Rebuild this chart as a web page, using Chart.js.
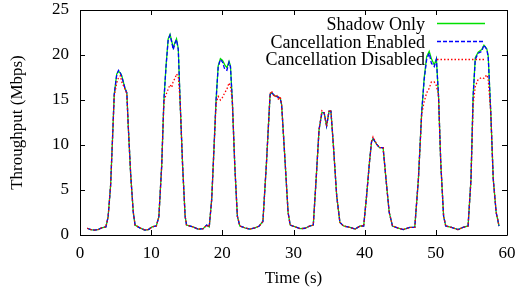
<!DOCTYPE html>
<html>
<head>
<meta charset="utf-8">
<script src="https://cdn.jsdelivr.net/npm/chart.js@4.4.0/dist/chart.umd.min.js"></script>
<style>
  html, body { margin: 0; padding: 0; background: #fff; }
  #wrap { width: 519px; height: 290px; }
</style>
</head>
<body>
<div id="wrap"><canvas id="plot"></canvas></div>
<script>
// data, time in seconds, throughput in Mbps
const times = [
  1.01, 1.52, 2.02, 2.53, 3.04, 3.64, 3.95,
  4.30, 4.55, 4.81, 5.16, 5.41, 5.67, 5.87, 6.32, 6.58, 6.78, 7.13, 7.49, 7.74,
  8.40, 9.11, 9.61, 10.12, 10.72, 11.08,
  11.48, 11.79, 12.09, 12.39, 12.65, 12.90, 13.10, 13.35, 13.56, 13.81, 14.06, 14.42, 14.77, 14.97,
  15.88, 16.59, 17.30, 17.81, 18.16,
  18.51, 18.82, 19.12, 19.42, 19.73, 20.03, 20.34, 20.64, 20.94, 21.14, 21.40, 21.75, 22.11, 22.46,
  23.17, 23.88, 24.58, 25.19, 25.70,
  26.20, 26.71, 26.91, 27.32, 27.62, 27.92, 28.13, 28.33, 28.83, 29.24, 29.54,
  30.25, 30.96, 31.62, 32.27, 32.78,
  33.18, 33.59, 33.99, 34.30, 34.65, 35.00, 35.26, 35.61, 36.07, 36.52,
  37.03, 37.94, 38.65, 39.36, 39.86,
  40.27, 40.67, 40.97, 41.18, 41.68, 42.09, 42.59, 43.00, 43.45, 43.91,
  44.72, 45.43, 46.34, 47.04,
  47.55, 48.01, 48.36, 48.71, 49.07, 49.37, 49.78, 50.08, 50.38, 50.69, 51.09, 51.39,
  52.20, 53.11, 53.82, 54.53,
  54.94, 55.24, 55.54, 55.95, 56.45, 56.76, 57.16, 57.36, 57.72, 58.07, 58.48, 58.88
];

const shadowOnly = [
  0.75, 0.6, 0.55, 0.6, 0.8, 0.9, 2.0,
  5.5, 10.3, 15.6, 17.9, 18.2, 18.0, 17.7, 16.3, 15.8, 12.1, 6.6, 2.5, 1.1,
  0.8, 0.55, 0.6, 0.9, 1.0, 2.0,
  7.7, 15.0, 18.8, 21.8, 22.3, 21.5, 20.8, 21.4, 21.8, 20.7, 15.0, 7.7, 2.1, 1.1,
  0.9, 0.65, 0.7, 1.1, 0.9,
  4.0, 9.5, 15.0, 18.8, 19.6, 19.4, 18.9, 18.6, 19.3, 18.8, 15.0, 7.7, 2.1, 1.0,
  0.8, 0.65, 0.8, 1.0, 1.5,
  8.0, 15.6, 15.8, 15.5, 15.4, 15.3, 15.2, 14.5, 8.0, 2.5, 1.1,
  0.9, 0.7, 0.75, 1.0, 1.1,
  6.2, 11.7, 13.6, 13.6, 12.1, 13.75, 13.75, 9.9, 4.35, 1.4,
  1.0, 0.85, 0.65, 1.0, 1.0,
  4.35, 8.05, 10.4, 10.7, 10.1, 9.7, 9.7, 6.2, 2.5, 1.0,
  0.77, 0.6, 0.85, 0.85,
  6.2, 13.6, 17.4, 19.8, 20.4, 19.6, 18.9, 19.6, 15.4, 8.05, 2.1, 1.0,
  0.85, 0.6, 0.85, 1.0,
  6.2, 15.4, 19.7, 20.3, 20.6, 21.1, 20.7, 19.9, 13.6, 6.2, 2.5, 1.0
];

const cancelEnabled = [
  0.75, 0.6, 0.55, 0.6, 0.8, 0.9, 2.0,
  5.5, 10.3, 15.6, 17.8, 18.3, 18.0, 17.6, 16.3, 15.8, 12.1, 6.6, 2.5, 1.1,
  0.8, 0.55, 0.6, 0.9, 1.0, 2.0,
  7.7, 15.0, 18.7, 21.7, 22.2, 21.4, 20.6, 21.3, 21.7, 20.6, 15.0, 7.7, 2.1, 1.1,
  0.9, 0.65, 0.7, 1.1, 0.9,
  4.0, 9.5, 15.0, 18.7, 19.5, 19.2, 18.4, 18.3, 19.2, 18.7, 15.0, 7.7, 2.1, 1.0,
  0.8, 0.65, 0.8, 1.0, 1.5,
  8.0, 15.6, 15.85, 15.5, 15.4, 15.3, 15.2, 14.5, 8.0, 2.5, 1.1,
  0.9, 0.7, 0.75, 1.0, 1.1,
  6.2, 11.7, 13.6, 13.6, 12.1, 13.75, 13.75, 9.9, 4.35, 1.4,
  1.0, 0.85, 0.65, 1.0, 1.0,
  4.35, 8.05, 10.4, 10.7, 10.1, 9.7, 9.7, 6.2, 2.5, 1.0,
  0.77, 0.6, 0.85, 0.85,
  6.2, 13.6, 17.25, 19.5, 20.2, 19.1, 18.7, 19.5, 15.4, 8.05, 2.1, 1.0,
  0.85, 0.6, 0.85, 1.0,
  6.2, 15.4, 19.5, 20.2, 20.4, 21.1, 20.6, 19.8, 13.6, 6.2, 2.5, 1.0
];

const cancelDisabled = [
  0.75, 0.6, 0.55, 0.6, 0.8, 0.9, 2.0,
  5.5, 10.3, 15.4, 16.9, 17.5, 17.7, 17.0, 16.2, 15.7, 12.1, 6.6, 2.5, 1.1,
  0.8, 0.55, 0.6, 0.9, 1.0, 2.0,
  7.7, 14.8, 15.6, 16.2, 16.7, 16.4, 17.1, 17.4, 17.9, 17.6, 15.0, 7.7, 2.1, 1.1,
  0.9, 0.65, 0.7, 1.1, 0.9,
  4.0, 9.5, 14.6, 15.4, 15.0, 15.3, 15.8, 16.2, 16.9, 16.5, 15.0, 7.7, 2.1, 1.0,
  0.8, 0.65, 0.8, 1.0, 1.5,
  8.0, 15.7, 16.0, 15.3, 15.6, 15.0, 15.4, 14.5, 8.0, 2.5, 1.1,
  0.9, 0.7, 0.75, 1.0, 1.1,
  6.2, 11.7, 13.8, 13.6, 12.1, 13.9, 13.75, 9.9, 4.35, 1.4,
  1.0, 0.85, 0.65, 1.0, 1.0,
  4.35, 8.05, 10.4, 10.9, 10.1, 9.7, 9.7, 6.2, 2.5, 1.0,
  0.77, 0.6, 0.85, 0.85,
  6.2, 13.4, 14.8, 15.8, 16.3, 17.0, 17.0, 16.6, 15.4, 8.05, 2.1, 1.0,
  0.85, 0.6, 0.85, 1.0,
  6.2, 14.5, 16.5, 17.3, 17.5, 17.4, 17.8, 17.3, 13.6, 6.2, 2.5, 1.0
];

const seriesNames = ["Shadow Only", "Cancellation Enabled", "Cancellation Disabled"];
const xTicks = [0, 10, 20, 30, 40, 50, 60];
const yTicks = [0, 5, 10, 15, 20, 25];

const GREEN = "#00e000";
const BLUE = "#0000ff";
const RED = "#ff0000";

function pts(arr) {
  return times.map((t, i) => ({ x: t, y: arr[i] }));
}

Chart.defaults.font.family = '"Liberation Serif", "Times New Roman", serif';
Chart.defaults.font.size = 17;
Chart.defaults.color = "#000";

// gnuplot style frame with inward ticks on all four sides
const framePlugin = {
  id: "frame",
  afterDraw(chart) {
    const ctx = chart.ctx;
    const a = chart.chartArea;
    const xs = chart.scales.x;
    const ys = chart.scales.y;
    const tl = 5;
    ctx.save();
    ctx.strokeStyle = "#000";
    ctx.lineWidth = 1;
    ctx.beginPath();
    ctx.rect(Math.round(a.left) + 0.5, Math.round(a.top) + 0.5,
      Math.round(a.right - a.left), Math.round(a.bottom - a.top));
    xTicks.forEach((v) => {
      const px = Math.round(xs.getPixelForValue(v)) + 0.5;
      ctx.moveTo(px, a.bottom);
      ctx.lineTo(px, a.bottom - tl);
      ctx.moveTo(px, a.top);
      ctx.lineTo(px, a.top + tl);
    });
    yTicks.forEach((v) => {
      const py = Math.round(ys.getPixelForValue(v)) + 0.5;
      ctx.moveTo(a.left, py);
      ctx.lineTo(a.left + tl, py);
      ctx.moveTo(a.right, py);
      ctx.lineTo(a.right - tl, py);
    });
    ctx.stroke();
    ctx.restore();
  },
};

// key in the top right corner, text right aligned then a line sample
const keyPlugin = {
  id: "key",
  afterDraw(chart) {
    const ctx = chart.ctx;
    const rows = [
      { txt: seriesNames[0], base: 29.5, ly: 23.5, col: GREEN, dash: [] },
      { txt: seriesNames[1], base: 47.5, ly: 41.5, col: BLUE, dash: [4, 2] },
      { txt: seriesNames[2], base: 65, ly: 59.5, col: RED, dash: [1.5, 2] },
    ];
    ctx.save();
    ctx.font = '18px "Liberation Serif", "Times New Roman", serif';
    ctx.textAlign = "right";
    ctx.textBaseline = "alphabetic";
    rows.forEach((r) => {
      ctx.fillStyle = "#000";
      ctx.fillText(r.txt, 425, r.base);
    });
    rows.forEach((r) => {
      ctx.strokeStyle = r.col;
      ctx.lineWidth = 1.6;
      ctx.setLineDash(r.dash);
      ctx.beginPath();
      ctx.moveTo(437, r.ly);
      ctx.lineTo(485, r.ly);
      ctx.stroke();
    });
    ctx.restore();
  },
};

new Chart(document.getElementById("plot"), {
  type: "line",
  data: {
    datasets: [
      {
        label: seriesNames[0],
        data: pts(shadowOnly),
        borderColor: GREEN,
        borderWidth: 1.3,
        order: 2,
      },
      {
        label: seriesNames[1],
        data: pts(cancelEnabled),
        borderColor: BLUE,
        borderWidth: 1.3,
        borderDash: [4, 2],
        order: 1,
      },
      {
        label: seriesNames[2],
        data: pts(cancelDisabled),
        borderColor: RED,
        borderWidth: 1.3,
        borderDash: [1.5, 2],
        order: 0,
      },
    ],
  },
  options: {
    responsive: true,
    maintainAspectRatio: false,
    animation: false,
    events: [],
    layout: { padding: { left: 0, right: 12, top: 10, bottom: 0 } },
    elements: {
      point: { radius: 0 },
      line: { tension: 0, fill: false },
    },
    plugins: {
      legend: { display: false },
      tooltip: { enabled: false },
    },
    scales: {
      x: {
        type: "linear",
        min: 0,
        max: 60,
        afterFit: (s) => {
          s.height = 55;
          s.paddingLeft = 0;
          s.paddingRight = 0;
        },
        afterBuildTicks: (s) => { s.ticks = xTicks.map((v) => ({ value: v })); },
        grid: { display: false, drawTicks: false },
        border: { display: false },
        ticks: { padding: 8, maxRotation: 0 },
        title: { display: true, text: "Time (s)", padding: { top: 2, bottom: 1 } },
      },
      y: {
        min: 0,
        max: 25,
        afterFit: (s) => {
          s.width = 80;
          s.paddingTop = 0;
          s.paddingBottom = 0;
        },
        afterBuildTicks: (s) => { s.ticks = yTicks.map((v) => ({ value: v })); },
        grid: { display: false, drawTicks: false },
        border: { display: false },
        ticks: { padding: 11 },
        title: { display: true, text: "Throughput (Mbps)", padding: { top: 7, bottom: 4 } },
      },
    },
  },
  plugins: [framePlugin, keyPlugin],
});
</script>
</body>
</html>
